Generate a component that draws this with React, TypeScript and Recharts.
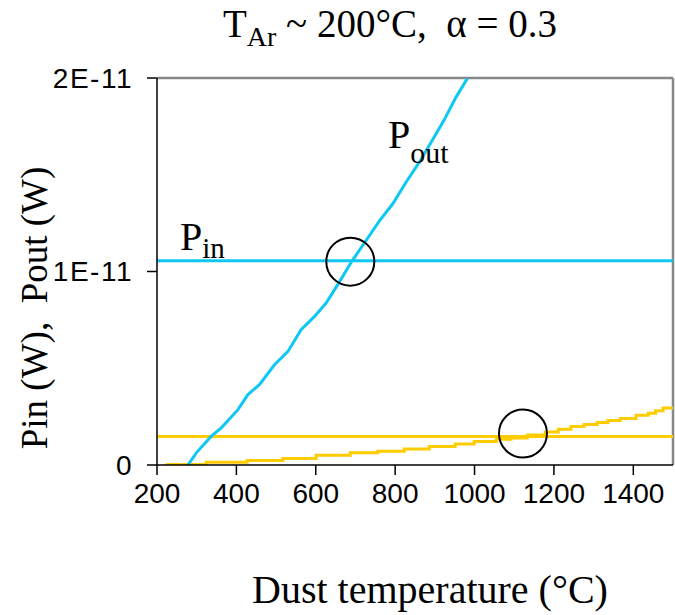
import { LineChart, Line, XAxis, YAxis, ReferenceLine, ReferenceDot } from 'recharts'

// values in units of 1e-12 W
const xTicks = [200, 400, 600, 800, 1000, 1200, 1400]
const yTicks = [0, 10, 20]
const yTickLabels: Record<number, string> = { 0: '0', 10: '1E-11', 20: '2E-11' }

const pinT = [200, 1500]
const pinBlueLevel = 10.56
const pinYellowLevel = 1.47

const poutBlueT = [278, 299, 337, 362, 404, 429, 458, 496, 530, 563, 597, 626, 655, 690, 725, 760, 794, 827, 861, 890, 924, 953, 982]
const poutBlueV = [0, 0.63, 1.49, 1.92, 2.86, 3.64, 4.15, 5.18, 5.87, 6.99, 7.68, 8.37, 9.31, 10.5, 11.55, 12.6, 13.5, 14.6, 15.65, 16.65, 17.85, 19.0, 19.98]

const poutYellowT = [222, 324, 427, 517, 601, 687, 756, 823, 886, 951, 999, 1055, 1092, 1133, 1178, 1211, 1243, 1276, 1309, 1336, 1367, 1407, 1438, 1456, 1475, 1500]
const poutYellowV = [0.02, 0.14, 0.23, 0.34, 0.5, 0.63, 0.71, 0.83, 0.95, 1.09, 1.21, 1.33, 1.39, 1.55, 1.71, 1.85, 1.99, 2.09, 2.19, 2.3, 2.4, 2.57, 2.68, 2.81, 2.94, 3.0]

// circled crossings
const crossT = [687, 1122]
const crossV = [10.51, 1.63]

const CYAN = '#0DC8F4'
const YELLOW = '#FFCC00'
const SERIF = '"Liberation Serif", "Times New Roman", serif'
const SANS = '"Liberation Sans", Arial, sans-serif'

const pinBlue = pinT.map((t) => ({ t, v: pinBlueLevel }))
const pinYellow = pinT.map((t) => ({ t, v: pinYellowLevel }))
const poutBlue = poutBlueT.map((t, i) => ({ t, v: poutBlueV[i] }))
const poutYellow = poutYellowT.map((t, i) => ({ t, v: poutYellowV[i] }))

export default function App() {
  return (
    <div style={{ position: 'absolute', left: 0, top: 0, width: 675, height: 615, background: '#fff' }}>
      <LineChart width={675} height={615} margin={{ top: 78, right: 2, bottom: 0, left: 0 }}>
        <XAxis
          type="number"
          dataKey="t"
          domain={[200, 1500]}
          ticks={xTicks}
          allowDataOverflow
          height={150}
          tickSize={10}
          tickMargin={8}
          axisLine={{ stroke: '#000', strokeWidth: 1.5 }}
          tickLine={{ stroke: '#000', strokeWidth: 1.5 }}
          tick={{ fill: '#000', fontSize: 28, fontFamily: SANS }}
        />
        <YAxis
          type="number"
          dataKey="v"
          domain={[0, 20]}
          ticks={yTicks}
          allowDataOverflow
          width={157}
          tickSize={10}
          tickMargin={14}
          tickFormatter={(v: number) => yTickLabels[v] ?? String(v)}
          axisLine={{ stroke: '#000', strokeWidth: 1.5 }}
          tickLine={{ stroke: '#000', strokeWidth: 1.5 }}
          tick={{ fill: '#000', fontSize: 28, fontFamily: SANS, letterSpacing: 1.5 }}
        />
        <ReferenceLine y={20} stroke="#888" strokeWidth={2.5} />
        <ReferenceLine x={1500} stroke="#888" strokeWidth={2.5} />
        <Line data={pinBlue} dataKey="v" stroke={CYAN} strokeWidth={3} dot={false} isAnimationActive={false} />
        <Line data={pinYellow} dataKey="v" stroke={YELLOW} strokeWidth={3} dot={false} isAnimationActive={false} />
        <Line data={poutYellow} type="stepAfter" dataKey="v" stroke={YELLOW} strokeWidth={3} dot={false} isAnimationActive={false} />
        <Line data={poutBlue} dataKey="v" stroke={CYAN} strokeWidth={3} dot={false} isAnimationActive={false} />
        {crossT.map((t, i) => (
          <ReferenceDot key={t} x={t} y={crossV[i]} r={24} fill="none" stroke="#000" strokeWidth={2} />
        ))}
      </LineChart>
      <svg width={675} height={615} style={{ position: 'absolute', left: 0, top: 0, pointerEvents: 'none' }}>
        <text x={390} y={37} textAnchor="middle" fontFamily={SERIF} fontSize={39} fill="#000" style={{ whiteSpace: 'pre' }}>
          T<tspan fontSize={28} dy={9}>Ar</tspan>
          <tspan dy={-9}>{' ~ 200°C,  α = 0.3'}</tspan>
        </text>
        <text x={180} y={250} fontFamily={SERIF} fontSize={40} fill="#000">
          P<tspan fontSize={29} dy={8}>in</tspan>
        </text>
        <text x={388} y={148} fontFamily={SERIF} fontSize={40} fill="#000">
          P<tspan fontSize={30} dy={15}>out</tspan>
        </text>
        <text x={430} y={603} textAnchor="middle" fontFamily={SERIF} fontSize={40} fill="#000">
          Dust temperature (°C)
        </text>
        <text
          transform="translate(47, 308) rotate(-90)"
          textAnchor="middle"
          fontFamily={SERIF}
          fontSize={37}
          fill="#000"
          style={{ whiteSpace: 'pre' }}
        >
          {'Pin (W),  Pout (W)'}
        </text>
      </svg>
    </div>
  )
}
